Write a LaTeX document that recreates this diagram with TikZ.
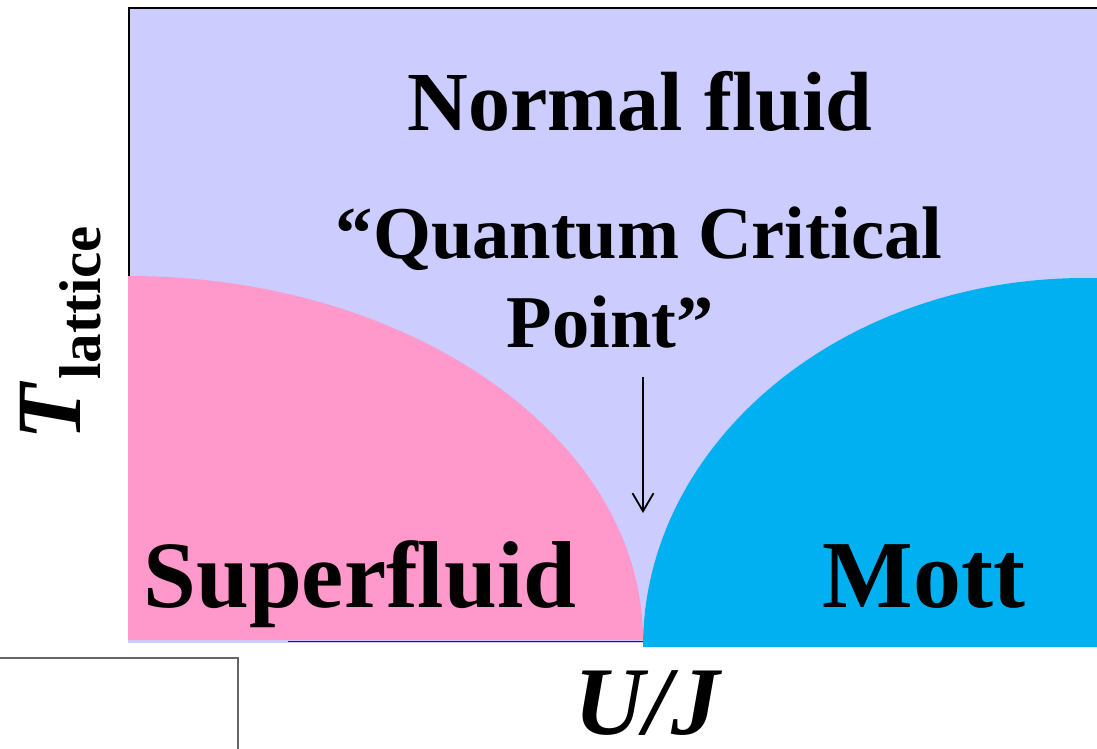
\documentclass[tikz,border=0pt]{standalone}
\usepackage{fontspec}
\setmainfont{Liberation Serif}
\usetikzlibrary{arrows.meta}
\definecolor{lav}{RGB}{204,204,255}
\definecolor{pinkreg}{RGB}{255,153,204}
\definecolor{bluereg}{RGB}{0,176,240}
\tikzset{
  lbl/.style={anchor=base, inner sep=0pt, font=\bfseries},
  frameline/.style={line width=2pt, black},
}
\begin{document}
\begin{tikzpicture}[x=1pt,y=1pt]
\useasboundingbox (0,0) rectangle (1097,-748);
\begin{scope}
\clip (0,0) rectangle (1097,-748);
% background region
\fill[lav] (128,-8) rectangle (1100,-643);
% axis line under the pink region
\coordinate (axL) at (288,-641.5);
\coordinate (axR) at (643,-641.5);
\draw[line width=1.5pt, black!85] (axL) -- (axR);
% superfluid region
\fill[pinkreg] (128,-640) -- (128,-276) arc[start angle=90, end angle=0, x radius=515, y radius=364] -- cycle;
% Mott region
\fill[bluereg] (643,-647) arc[start angle=180, end angle=0, x radius=442, y radius=369] -- cycle;
% frame
\coordinate (fBL) at (128.5,-276);
\coordinate (fTL) at (128.5,-8);
\coordinate (fTR) at (1100,-8);
\draw[frameline] (fBL) -- (fTL) -- (fTR);
% box at bottom left
\coordinate (bA) at (-2,-658);
\coordinate (bB) at (238,-658);
\coordinate (bC) at (238,-752);
\draw[line width=1.5pt, black!60] (bA) -- (bB) -- (bC);
\end{scope}
% labels
\node[lbl, font=\bfseries\fontsize{84}{84}\selectfont] (normal) at (640,-130) {Normal fluid};
\node[lbl, font=\bfseries\fontsize{74.5}{74.5}\selectfont] (qcp1) at (639,-258) {“Quantum Critical};
\node[lbl, font=\bfseries\fontsize{74.5}{74.5}\selectfont] (qcp2) at (610,-347) {Point”};
\node[lbl, font=\bfseries\fontsize{95}{95}\selectfont] (sf) at (360,-607) {Superfluid};
\node[lbl, font=\bfseries\fontsize{96}{96}\selectfont] (mott) at (924,-607) {Mott};
\node[lbl, font=\bfseries\itshape\fontsize{97}{97}\selectfont] (uj) at (647,-734) {U/J};
\node[lbl, rotate=90] (tl) at (80,-333) {{\fontsize{92}{92}\selectfont\bfseries\itshape T}\kern4pt\raisebox{-20pt}{\fontsize{59}{59}\selectfont\bfseries lattice}};
% arrow to the quantum critical point
\coordinate (arTop) at (643,-377);
\coordinate (qcp) at (643,-513);
\draw[line width=1.8pt, -{Straight Barb[length=18pt, width=21pt, line width=1.8pt]}] (arTop) -- (qcp);
\end{tikzpicture}
\end{document}
